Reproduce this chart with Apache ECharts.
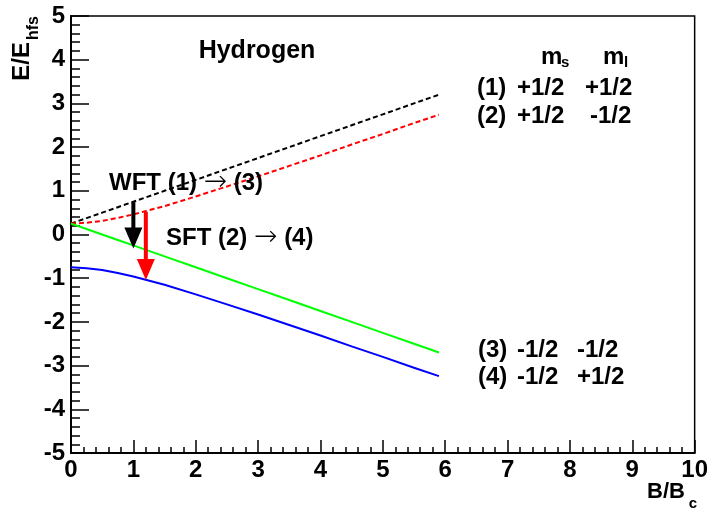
<!DOCTYPE html>
<html>
<head>
<meta charset="utf-8">
<title>Hydrogen Breit-Rabi levels</title>
<script src="https://cdn.jsdelivr.net/npm/echarts@6/dist/echarts.min.js"></script>
<style>
  html, body { margin: 0; padding: 0; background: #fff; }
  #chart { width: 711px; height: 512px; }
</style>
</head>
<body>
<div id="chart"></div>
<script>
// Field values B/Bc at which the level energies are sampled
const fieldX = [0, 0.25, 0.5, 0.75, 1, 1.5, 2, 2.5, 3, 3.5, 4, 4.5, 5, 5.5, 5.9];
// Level energies E/Ehfs
const level1 = [0.25, 0.375, 0.5, 0.625, 0.75, 1.0, 1.25, 1.5, 1.75, 2.0, 2.25, 2.5, 2.75, 3.0, 3.2];
const level2 = [0.25, 0.27, 0.31, 0.38, 0.46, 0.65, 0.87, 1.10, 1.33, 1.57, 1.81, 2.06, 2.30, 2.55, 2.74];
const level3 = [0.25, 0.125, 0, -0.125, -0.25, -0.5, -0.75, -1.0, -1.25, -1.5, -1.75, -2.0, -2.25, -2.5, -2.7];
const level4 = [-0.75, -0.77, -0.81, -0.88, -0.96, -1.15, -1.37, -1.60, -1.83, -2.07, -2.31, -2.56, -2.80, -3.05, -3.24];

// Transition arrows: field value, start energy, end energy
const transX = [1.0, 1.2];
const transFrom = [0.74, 0.52];
const transTo = [-0.32, -1.04];

const FONT = '"Liberation Sans", Arial, Helvetica, sans-serif';
const arrowColors = ['#000000', '#ff0000'];

function pairs(xs, ys) { return xs.map((x, i) => [x, ys[i]]); }

function txt(x, y, text, size, align, extra) {
  return Object.assign({
    type: 'text', x: x, y: y, z: 10,
    style: {
      text: text, fill: '#000', fontFamily: FONT, fontWeight: 'bold',
      fontSize: size, align: align || 'left', verticalAlign: 'middle'
    }
  }, extra || {});
}

function transitionLabel(x, y, from, to) {
  return {
    type: 'text', x: x, y: y, z: 10,
    style: {
      text: '{a|' + from + ' }{r|\u2192}{a| ' + to + '}', verticalAlign: 'middle', align: 'left',
      rich: {
        a: { fontFamily: FONT, fontWeight: 'bold', fontSize: 24, fill: '#000' },
        r: { fontFamily: '"DejaVu Sans ExtraLight", "DejaVu Sans", sans-serif', fontWeight: 200, fontSize: 28, fill: '#000' }
      }
    }
  };
}

const chart = echarts.init(document.getElementById('chart'), null, { renderer: 'canvas' });

const axisCommon = {
  type: 'value',
  splitLine: { show: false },
  axisLine: { show: true, onZero: false, lineStyle: { color: '#000', width: 2 } },
  axisLabel: { color: '#000', fontSize: 24, fontWeight: 'bold', fontFamily: FONT }
};

const option = {
  animation: false,
  backgroundColor: '#fff',
  grid: { left: 71, right: 14, top: 16, bottom: 59, show: true, borderColor: '#000', borderWidth: 1.5, backgroundColor: 'transparent' },
  xAxis: Object.assign({}, axisCommon, {
    min: 0, max: 10, interval: 1,
    axisTick: { show: true, inside: true, length: 13, lineStyle: { color: '#000', width: 1.5 } },
    minorTick: { show: true, splitNumber: 5, length: 6, lineStyle: { color: '#000', width: 1.5 } },
    axisLabel: Object.assign({}, axisCommon.axisLabel, { margin: 5 })
  }),
  yAxis: Object.assign({}, axisCommon, {
    min: -5, max: 5, interval: 1,
    axisTick: { show: true, inside: true, length: 18, lineStyle: { color: '#000', width: 1.5 } },
    minorTick: { show: true, splitNumber: 5, length: 9, lineStyle: { color: '#000', width: 1.5 } },
    axisLabel: Object.assign({}, axisCommon.axisLabel, { margin: 6 })
  }),
  series: [
    { type: 'line', data: pairs(fieldX, level1), showSymbol: false, symbol: 'none', lineStyle: { color: '#000', width: 2, type: [5, 3] } },
    { type: 'line', data: pairs(fieldX, level2), showSymbol: false, symbol: 'none', lineStyle: { color: '#ff0000', width: 2, type: [5, 3] } },
    { type: 'line', data: pairs(fieldX, level3), showSymbol: false, symbol: 'none', lineStyle: { color: '#00ff00', width: 2 } },
    { type: 'line', data: pairs(fieldX, level4), showSymbol: false, symbol: 'none', lineStyle: { color: '#0000ff', width: 2 } },
    {
      type: 'custom',
      z: 5,
      data: transX.map((x, i) => [x, transFrom[i], transTo[i], i]),
      encode: { x: 0, y: [1, 2] },
      renderItem: function (params, api) {
        const x = api.value(0);
        const p0 = api.coord([x, api.value(1)]);
        const p1 = api.coord([x, api.value(2)]);
        const col = arrowColors[api.value(3)];
        const headLen = 21, halfW = 9;
        return {
          type: 'group',
          children: [
            { type: 'line', shape: { x1: p0[0], y1: p0[1], x2: p1[0], y2: p1[1] - headLen + 2 }, style: { stroke: col, lineWidth: 4 } },
            { type: 'polygon', shape: { points: [[p1[0] - halfW, p1[1] - headLen], [p1[0] + halfW, p1[1] - headLen], [p1[0], p1[1]]] }, style: { fill: col } }
          ]
        };
      }
    }
  ],
  graphic: [
    // axis titles
    txt(34, 16, 'hfs', 16, 'right', { rotation: Math.PI / 2 }),
    txt(22, 42, 'E/E', 24, 'right', { rotation: Math.PI / 2 }),
    txt(685, 492, 'B/B', 22, 'right'),
    txt(697, 504, 'c', 15, 'right'),
    // header
    txt(257, 51, 'Hydrogen', 25, 'center'),
    txt(541, 57, 'm', 24, 'left'),
    txt(561, 63, 's', 15, 'left'),
    txt(603, 57, 'm', 24, 'left'),
    txt(624, 63, 'l', 15, 'left'),
    // level labels
    txt(477, 88, '(1)', 24), txt(517, 88, '+1/2', 24), txt(585, 88, '+1/2', 24),
    txt(477, 116, '(2)', 24), txt(517, 116, '+1/2', 24), txt(590, 116, '-1/2', 24),
    txt(478, 350, '(3)', 24), txt(517, 350, '-1/2', 24), txt(577, 350, '-1/2', 24),
    txt(478, 377, '(4)', 24), txt(517, 377, '-1/2', 24), txt(577, 377, '+1/2', 24),
    // transitions
    transitionLabel(109, 183, 'WFT (1)', '(3)'),
    transitionLabel(166, 238, 'SFT (2)', '(4)')
  ]
};

chart.setOption(option);
</script>
</body>
</html>
